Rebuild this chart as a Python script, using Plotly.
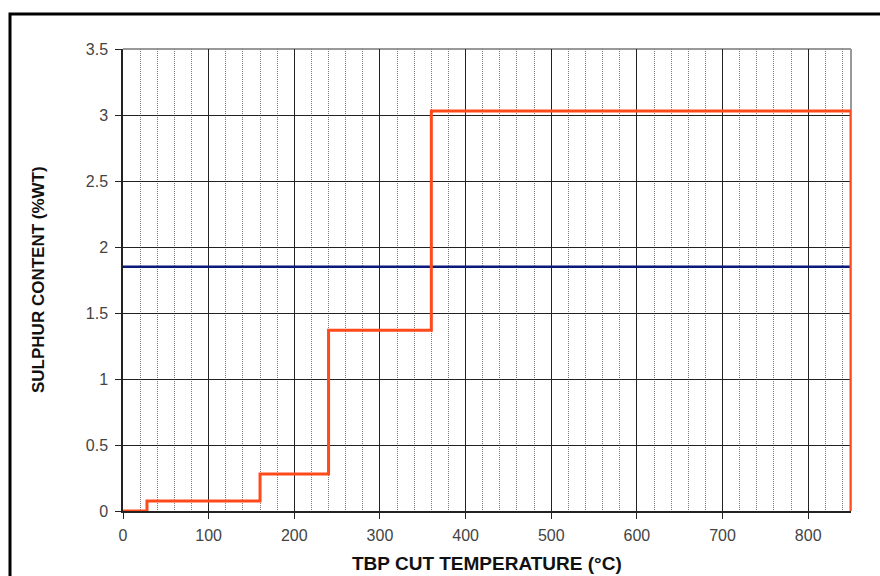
import plotly.graph_objects as go

# Data
cut_temps = [0, 28, 160, 240, 360, 850]
sulphur_content = [0, 0.075, 0.28, 1.37, 3.03, 0]
crude_avg_x = [0, 850]
crude_avg_y = [1.85, 1.85]

W, H = 880, 576
ML, MR, MT, MB = 123, 29, 49, 65
PW = W - ML - MR
PH = H - MT - MB

fig = go.Figure()
fig.add_trace(go.Scatter(
    x=crude_avg_x, y=crude_avg_y, mode="lines",
    line=dict(color="#0a1a7a", width=2.5), showlegend=False, cliponaxis=False))
fig.add_trace(go.Scatter(
    x=cut_temps, y=sulphur_content, mode="lines",
    line=dict(color="#ff4a1c", width=3, shape="hv"), showlegend=False, cliponaxis=False))

tickfont = dict(family="Liberation Sans, Arial, sans-serif", size=16, color="#444444")
xtitlefont = dict(family="Liberation Sans, Arial, sans-serif", size=19, color="#111111")
ytitlefont = dict(family="Liberation Sans, Arial, sans-serif", size=17, color="#111111")

fig.update_xaxes(
    range=[0, 850], tickmode="linear", tick0=0, dtick=100,
    showgrid=True, gridcolor="#222222", gridwidth=1,
    minor=dict(dtick=20, tick0=0, showgrid=True, gridcolor="#7a7a7a", griddash="1px,1px", gridwidth=1),
    showline=True, linecolor="#222222", linewidth=1.5,
    ticks="outside", ticklen=6, tickcolor="#222222",
    tickfont=tickfont, zeroline=False, ticklabelstandoff=3, automargin=False)
fig.update_yaxes(
    range=[0, 3.5], tickmode="linear", tick0=0, dtick=0.5,
    showgrid=True, gridcolor="#222222", gridwidth=1,
    showline=True, linecolor="#222222", linewidth=1.5,
    ticks="outside", ticklen=6, tickcolor="#222222",
    tickfont=tickfont, zeroline=False, ticklabelstandoff=4, automargin=False)

def px_x(p):
    return (p - ML) / PW
def px_y(p):
    return 1 - (p - MT) / PH

# axis titles
fig.add_annotation(text="<b>TBP CUT TEMPERATURE (°C)</b>", xref="paper", yref="paper",
                   x=0.5, y=px_y(563), xanchor="center", yanchor="middle",
                   showarrow=False, font=xtitlefont)
fig.add_annotation(text="<b>SULPHUR CONTENT (%WT)</b>", xref="paper", yref="paper",
                   x=px_x(38), y=0.5, xanchor="center", yanchor="middle",
                   showarrow=False, font=ytitlefont, textangle=-90)

# gray top/right plot border
fig.add_shape(type="line", xref="paper", yref="paper", x0=0, x1=1, y0=1, y1=1,
              line=dict(color="#999999", width=2), layer="below")
fig.add_shape(type="line", xref="paper", yref="paper", x0=1, x1=1, y0=0, y1=1,
              line=dict(color="#999999", width=2), layer="below")

# outer frame
fig.add_shape(type="rect", xref="paper", yref="paper",
              x0=px_x(10), x1=px_x(895), y0=px_y(600), y1=px_y(14),
              line=dict(color="black", width=3), fillcolor="rgba(0,0,0,0)")

fig.update_layout(
    width=W, height=H,
    margin=dict(l=ML, r=MR, t=MT, b=MB),
    paper_bgcolor="white", plot_bgcolor="white",
    showlegend=False)

fig.write_html("out.html")
